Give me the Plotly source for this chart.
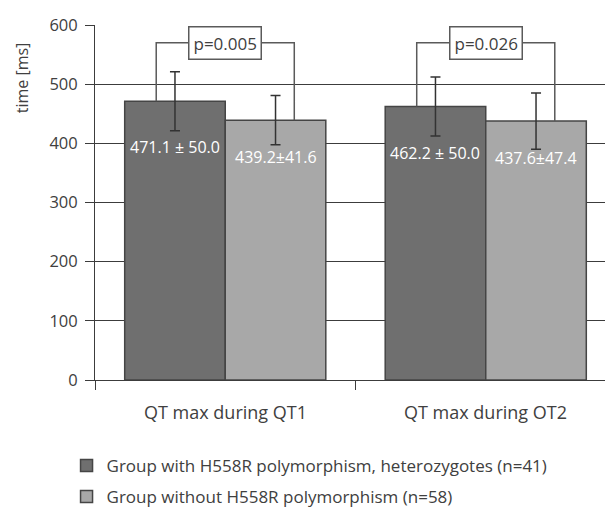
import plotly.graph_objects as go

categories = ["QT max during QT1", "QT max during OT2"]
series_names = ["Group with H558R polymorphism, heterozygotes (n=41)",
                "Group without H558R polymorphism (n=58)"]
means_with = [471.1, 462.2]
sd_with = [50.0, 50.0]
means_without = [439.2, 437.6]
sd_without = [41.6, 47.4]
labels_with = ["471.1 ± 50.0", "462.2 ± 50.0"]
labels_without = ["439.2±41.6", "437.6±47.4"]
p_values = ["p=0.005", "p=0.026"]
y_ticks = [0, 100, 200, 300, 400, 500, 600]

FONT = "Open Sans"
DARK = "#6f6f6f"
LIGHT = "#a8a8a8"
EDGE = "#454545"
GRID = "#3c3c3c"
TXT = "#404040"

xpos = list(range(len(categories)))
BARGAP = 0.228
bw = (1 - BARGAP) / 2
off = bw / 2
bracket_off = 0.265
bracket_y = 570

fig = go.Figure()
fig.add_trace(go.Bar(
    x=xpos, y=means_with, name=series_names[0],
    marker=dict(color=DARK, line=dict(color=EDGE, width=1.5)),
    error_y=dict(type="data", array=sd_with, visible=True, color="#333333", thickness=1.5, width=5),
    legendgroup="a",
))
fig.add_trace(go.Bar(
    x=xpos, y=means_without, name=series_names[1],
    marker=dict(color=LIGHT, line=dict(color=EDGE, width=1.5)),
    error_y=dict(type="data", array=sd_without, visible=True, color="#333333", thickness=1.5, width=5),
    legendgroup="b",
))

shapes = []
annotations = []
for i, x in enumerate(xpos):
    annotations.append(dict(x=x - off, y=means_with[i] - 78, xref="x", yref="y",
                            text=labels_with[i], showarrow=False,
                            font=dict(family=FONT, size=16, color="white")))
    annotations.append(dict(x=x + off, y=means_without[i] - 63, xref="x", yref="y",
                            text=labels_without[i], showarrow=False,
                            font=dict(family=FONT, size=16, color="white")))
    xl = x - bracket_off
    xr = x + bracket_off
    shapes.append(dict(type="path", xref="x", yref="y",
                       path=f"M {xl},{means_with[i]} L {xl},{bracket_y} L {xr},{bracket_y} L {xr},{means_without[i]}",
                       line=dict(color="#5a5a5a", width=1.5)))
    annotations.append(dict(x=x, y=bracket_y, xref="x", yref="y", text=p_values[i],
                            showarrow=False, bgcolor="white", bordercolor="#5a5a5a",
                            borderwidth=1.5, borderpad=4,
                            font=dict(family=FONT, size=17, color=TXT)))
    annotations.append(dict(x=x, y=0, xref="x", yref="paper", yshift=-32, text=categories[i],
                            showarrow=False, yanchor="middle",
                            font=dict(family=FONT, size=18, color=TXT)))

annotations.append(dict(x=(22 - 95) / 510, y=510, xref="paper", yref="y", text="time [ms]",
                        textangle=-90, showarrow=False, xanchor="center", yanchor="middle",
                        font=dict(family=FONT, size=16, color=TXT)))

fig.update_layout(
    width=605, height=509,
    margin=dict(l=95, r=0, t=25, b=129, autoexpand=False),
    paper_bgcolor="white", plot_bgcolor="white",
    barmode="group", bargap=BARGAP, bargroupgap=0,
    shapes=shapes, annotations=annotations,
    font=dict(family=FONT, color=TXT),
    legend=dict(orientation="v", xref="container", yref="container", x=0.11, y=0.12,
                xanchor="left", yanchor="top", tracegroupgap=6,
                font=dict(family=FONT, size=17, color=TXT), traceorder="grouped"),
    showlegend=True,
)
fig.update_xaxes(range=[-0.5, -0.5 + 510 / 260.5], showline=True, linecolor=GRID, linewidth=1,
                 showgrid=False, zeroline=False, tickmode="array", tickvals=[-0.5, 0.5],
                 ticks="outside", ticklen=9, tickcolor=GRID, showticklabels=False)
fig.update_yaxes(range=[0, 600], showline=True, linecolor=GRID, linewidth=1,
                 showgrid=True, gridcolor=GRID, gridwidth=1, zeroline=False,
                 tickmode="array", tickvals=y_ticks, ticks="outside", ticklen=9, tickcolor=GRID,
                 ticklabelstandoff=4,
                 tickfont=dict(family=FONT, size=16.5, color=TXT))

fig.write_html("out.html")
